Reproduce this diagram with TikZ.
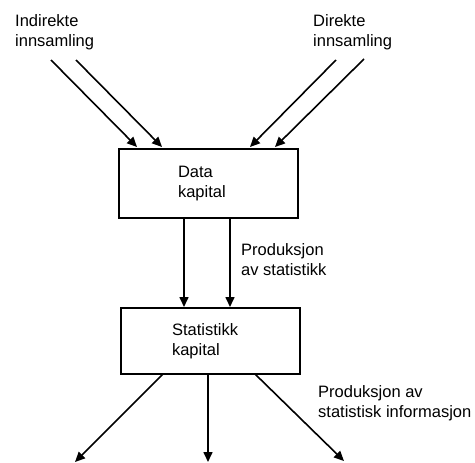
\documentclass[tikz,border=0pt]{standalone}
\usepackage{fontspec}
\setmainfont{Liberation Sans}
\usetikzlibrary{arrows.meta}
\begin{document}
\begin{tikzpicture}[x=1pt,y=-1pt,
  lbl/.style={font=\fontsize{16.5}{20}\selectfont, align=left, inner sep=0pt, anchor=north west},
  box/.style={draw, line width=1.6pt, rectangle, font=\fontsize{16.5}{20}\selectfont, align=left, inner ysep=0pt},
  conn/.style={line width=1.6pt, -{Triangle[length=10pt,width=9pt]}}]
\useasboundingbox (0,0) rectangle (475,463);
% boxes
\node[box, inner xsep=59pt, text width=61pt, minimum height=69pt] (data) at (208.5,183.5) {Data\\kapital};
\node[box, inner xsep=51pt, text width=77pt, minimum height=66pt] (stat) at (210.5,341) {Statistikk\\kapital};
% labels
\node[lbl] (ind) at (15,14) {Indirekte\\innsamling};
\node[lbl] (dir) at (313,14) {Direkte\\innsamling};
\node[lbl] (prod1) at (241,243) {Produksjon\\av statistikk};
\node[lbl] (prod2) at (318,385) {Produksjon av\\statistisk informasjon};
% free ends
\coordinate (i1) at (51,60);
\coordinate (i2) at (76,60);
\coordinate (d1) at (336,60);
\coordinate (d2) at (364,59);
\coordinate (i1e) at (137,147);
\coordinate (i2e) at (162,147);
\coordinate (d1e) at (250,147);
\coordinate (d2e) at (275,147);
\coordinate (v1s) at (184,218);
\coordinate (v2s) at (230,218);
\coordinate (v1e) at (184,307);
\coordinate (v2e) at (230,307);
\coordinate (o1s) at (163,374);
\coordinate (o2s) at (208,374);
\coordinate (o3s) at (255,374);
\coordinate (o1) at (75,462);
\coordinate (o2) at (208,462);
\coordinate (o3) at (344,461);
% connectors
\draw[conn] (i1) -- (i1e);
\draw[conn] (i2) -- (i2e);
\draw[conn] (d1) -- (d1e);
\draw[conn] (d2) -- (d2e);
\draw[conn] (v1s) -- (v1e);
\draw[conn] (v2s) -- (v2e);
\draw[conn] (o1s) -- (o1);
\draw[conn] (o2s) -- (o2);
\draw[conn] (o3s) -- (o3);
\end{tikzpicture}
\end{document}
